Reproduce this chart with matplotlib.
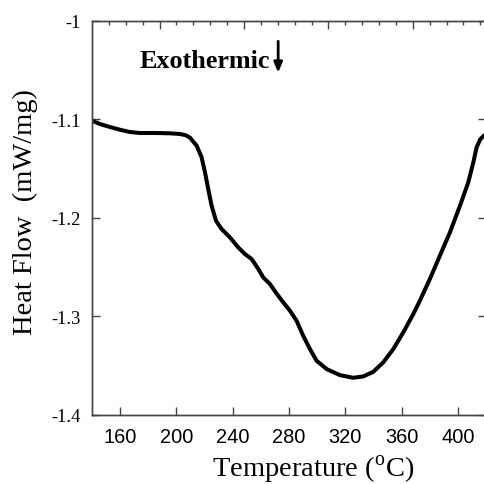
import matplotlib
matplotlib.use('Agg')
import matplotlib.pyplot as plt
from matplotlib.ticker import FixedLocator

plt.rcParams['mathtext.fontset'] = 'custom'
plt.rcParams['mathtext.rm'] = 'Liberation Serif'

# DSC trace
temp = [140, 145.7, 152.8, 159.9, 167, 174.1, 186, 195.4, 202.5, 206.5, 209.6, 214.4,
        217.9, 220.3, 222.6, 225, 228.1, 232.1, 238, 243.9, 248.7, 253.5, 258.2,
        261.7, 266.5, 271.2, 276, 280.7, 285.4, 290.1, 294.9, 299.6, 306.8, 316.2,
        325.6, 332.8, 339.9, 347, 354.1, 361.2, 368.3, 373, 380.1, 387.2, 394.4,
        401.5, 407.4, 411, 413.3, 416, 418.4, 420]
heat_flow = [-1.1013, -1.1047, -1.1077, -1.1105, -1.1128, -1.1138, -1.1138, -1.1141,
             -1.1148, -1.1160, -1.1185, -1.1267, -1.1385, -1.1538, -1.1707, -1.1877,
             -1.2029, -1.2114, -1.2198, -1.2300, -1.2368, -1.2419, -1.2520, -1.2605,
             -1.2673, -1.2770, -1.2860, -1.2944, -1.3046, -1.3198, -1.3333, -1.3452,
             -1.3537, -1.3598, -1.3625, -1.3611, -1.3564, -1.3468, -1.3333, -1.3164,
             -1.2978, -1.2842, -1.2622, -1.2385, -1.2147, -1.1877, -1.1639, -1.1436,
             -1.1284, -1.1200, -1.1166, -1.1160]

xticks = [160, 200, 240, 280, 320, 360, 400]
yticks = [-1.4, -1.3, -1.2, -1.1, -1.0]
ytick_labels = ['-1.4', '-1.3', '-1.2', '-1.1', '-1']

fig = plt.figure(figsize=(4.84, 4.85), dpi=100)
ax = fig.add_axes([92 / 484, 69.3 / 485, 394 / 484, 393.7 / 485])

ax.plot(temp, heat_flow, color='black', lw=2.9, solid_capstyle='round',
        solid_joinstyle='round')
ax.set_xlim(140, 420)
ax.set_ylim(-1.4, -1.0)

for s in ax.spines.values():
    s.set_color('#444444')
    s.set_linewidth(1.0)

# top axis carries its own tick scale, unlabeled
top = ax.twiny()
top.set_xlim(140, 420)
top.xaxis.set_major_locator(FixedLocator([188, 248, 308, 368]))
top.xaxis.set_minor_locator(FixedLocator([152 + 12 * i for i in range(23)]))
top.tick_params(axis='x', which='major', direction='in', length=5.5, width=1.0,
                color='#444444', labeltop=False)
top.tick_params(axis='x', which='minor', direction='in', length=3, width=1.0,
                color='#444444')
for s in top.spines.values():
    s.set_color('#444444')
    s.set_linewidth(1.0)

ax.set_xticks(xticks)
ax.set_xticklabels([str(t) for t in xticks], fontfamily='Liberation Sans', fontsize=14.4)
ax.set_yticks(yticks)
ax.set_yticklabels(ytick_labels, fontfamily='Liberation Serif', fontsize=13.3)
ax.tick_params(axis='both', direction='in', length=5.5, width=1.0, color='#444444',
               bottom=True, left=True, right=True)
ax.tick_params(axis='x', pad=9)
ax.tick_params(axis='y', pad=8)

ax.set_xlabel('Temperature ($^{\\rm o}$C)', fontfamily='Liberation Serif', fontsize=20.5)
ax.xaxis.set_label_coords(0.561, -0.097)
ax.set_ylabel('Heat Flow  (mW/mg)', fontfamily='Liberation Serif', fontsize=20.5)
ax.yaxis.set_label_coords(-0.137, 0.517)

ax.text(174.1, -1.0469, 'Exothermic', fontfamily='Liberation Serif', fontweight='bold',
        fontsize=18.8, ha='left', va='baseline')
ax.annotate('', xy=(272.3, -1.0525), xytext=(272.3, -1.0206),
            arrowprops=dict(arrowstyle='-|>,head_length=0.6,head_width=0.25',
                            lw=2.0, color='black', shrinkA=0, shrinkB=0,
                            mutation_scale=10))

fig.savefig('out.png', dpi=100)
